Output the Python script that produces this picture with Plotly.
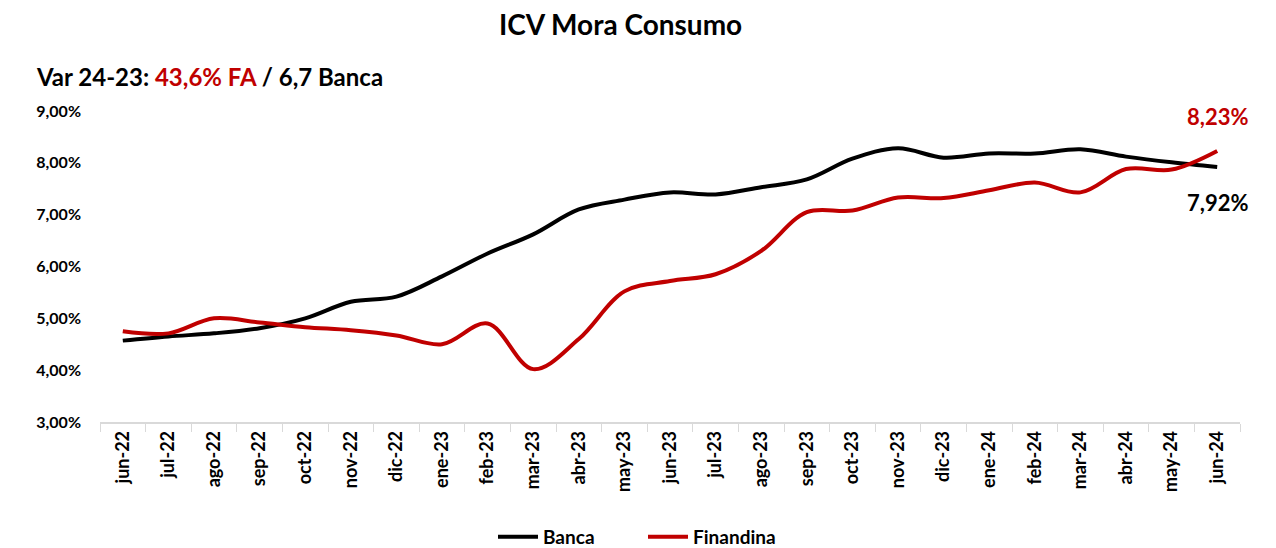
import plotly.graph_objects as go

months = ["jun-22", "jul-22", "ago-22", "sep-22", "oct-22", "nov-22", "dic-22",
          "ene-23", "feb-23", "mar-23", "abr-23", "may-23", "jun-23", "jul-23",
          "ago-23", "sep-23", "oct-23", "nov-23", "dic-23", "ene-24", "feb-24",
          "mar-24", "abr-24", "may-24", "jun-24"]

banca = [4.57, 4.65, 4.71, 4.81, 5.00, 5.32, 5.42, 5.81, 6.25, 6.62, 7.10, 7.29,
         7.43, 7.39, 7.53, 7.68, 8.08, 8.28, 8.10, 8.18, 8.18, 8.26, 8.12, 8.01, 7.92]

finandina = [4.75, 4.71, 5.00, 4.92, 4.83, 4.77, 4.67, 4.50, 4.90, 4.02, 4.60, 5.52,
             5.72, 5.85, 6.30, 7.05, 7.08, 7.33, 7.32, 7.47, 7.62, 7.43, 7.88, 7.87, 8.23]

y_ticks = [3, 4, 5, 6, 7, 8, 9]
y_ticktext = [f"{v:.2f}".replace(".", ",") + "%" for v in y_ticks]

BLACK = "#000000"
RED = "#C00000"
FONT = "Lato"

# page body adds an 8px offset; layout expressed in screenshot pixels minus that
OFF = 8
W, H = 1276, 548
L, R, T, B = 92, 44, 103, 134
PW, PH = W - L - R, H - T - B


def px_x(x):
    return (x - OFF - L) / PW


def px_y(y):
    return (H - B - (y - OFF)) / PH


fig = go.Figure()
fig.add_trace(go.Scatter(x=months, y=banca, name="Banca", mode="lines",
                         line=dict(color=BLACK, width=4, shape="spline", smoothing=1.0)))
fig.add_trace(go.Scatter(x=months, y=finandina, name="Finandina", mode="lines",
                         line=dict(color=RED, width=4, shape="spline", smoothing=1.0)))

fig.add_annotation(x=months[-1], y=finandina[-1], xref="x", yref="y",
                   text="<b>8,23%</b>", showarrow=False, yshift=34,
                   font=dict(family=FONT, size=22, color=RED))
fig.add_annotation(x=months[-1], y=banca[-1], xref="x", yref="y",
                   text="<b>7,92%</b>", showarrow=False, yshift=-36,
                   font=dict(family=FONT, size=22, color=BLACK))

fig.add_annotation(x=px_x(620), y=px_y(24), xref="paper", yref="paper",
                   text="<b>ICV Mora Consumo</b>", showarrow=False,
                   xanchor="center", yanchor="middle",
                   font=dict(family=FONT, size=28, color=BLACK))

fig.add_annotation(x=px_x(34), y=px_y(76), xref="paper", yref="paper",
                   text="<b>Var 24-23: <span style='color:#C00000'>43,6% FA</span> / 6,7 Banca</b>",
                   showarrow=False, xanchor="left", yanchor="middle",
                   font=dict(family=FONT, size=24, color=BLACK))

fig.update_layout(
    width=W, height=H,
    paper_bgcolor="white", plot_bgcolor="white",
    margin=dict(l=L, r=R, t=T, b=B, autoexpand=False),
    font=dict(family=FONT, color=BLACK),
    legend=dict(orientation="h", x=px_x(643), xanchor="center",
                y=px_y(537), yanchor="middle", entrywidth=95,
                font=dict(family=FONT, size=19, color=BLACK, weight="bold"), itemwidth=40),
    showlegend=True,
)

fig.update_xaxes(type="category", categoryarray=months, range=[-0.5, len(months) - 0.5],
                 showgrid=False, showline=True, linecolor="#D9D9D9", linewidth=1.5,
                 ticks="outside", tickson="boundaries", ticklen=8, tickcolor="#D9D9D9",
                 tickangle=-90, automargin=False,
                 tickfont=dict(family=FONT, size=18, color=BLACK, weight="bold"))
fig.update_yaxes(range=[3, 9], tickvals=y_ticks, ticktext=y_ticktext,
                 showgrid=False, zeroline=False, showline=False, ticks="",
                 ticklabelstandoff=18, automargin=False,
                 tickfont=dict(family=FONT, size=16, color=BLACK, weight="bold"))

fig.write_html("out.html")
